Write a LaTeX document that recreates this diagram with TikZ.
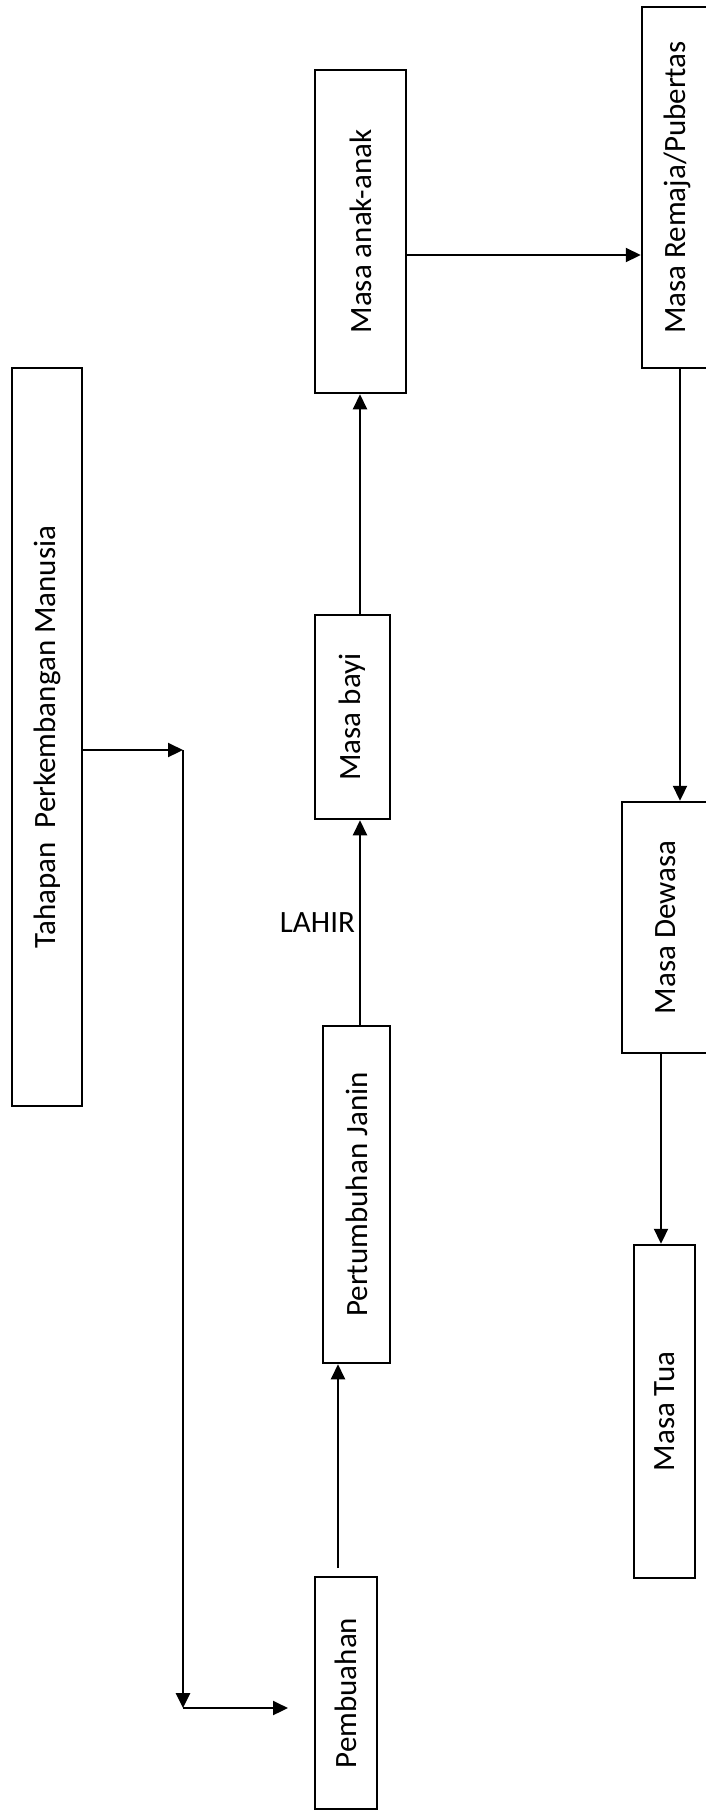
\documentclass[tikz,border=0pt]{standalone}
\usepackage{fontspec}
\setmainfont{Carlito}
\usetikzlibrary{arrows.meta}

\begin{document}
\begin{tikzpicture}[x=0.5pt,y=-0.5pt,line cap=butt,line join=miter,
    >={Triangle[length=7.5pt,width=7pt]},
    tahap/.style={draw,line width=1.25pt,inner sep=0pt,font=\fontsize{15.5}{18}\selectfont},
    panah/.style={->,line width=1.1pt}]
  \useasboundingbox (0,0) rectangle (706,1811);
  \clip (0,0) rectangle (706,1811);
  \node[tahap,minimum width=35pt,minimum height=369pt] (tahapan) at (47,737) {\rotatebox{90}{Tahapan\ \ Perkembangan Manusia}};
  \node[tahap,minimum width=31pt,minimum height=116pt] (buah) at (346,1693) {\rotatebox{90}{Pembuahan}};
  \node[tahap,minimum width=33.5pt,minimum height=168.5pt] (janin) at (356.5,1194.5) {\rotatebox{90}{Pertumbuhan Janin}};
  \node[tahap,minimum width=37.5pt,minimum height=102pt] (bayi) at (352.5,717) {\rotatebox{90}{Masa bayi}};
  \node[tahap,minimum width=45.5pt,minimum height=161.5pt] (anak) at (360.5,231.5) {\rotatebox{90}{Masa anak-anak}};
  \node[tahap,minimum width=35pt,minimum height=180.5pt] (remaja) at (677,187.5) {\rotatebox{90}{Masa Remaja/Pubertas}};
  \node[tahap,minimum width=44pt,minimum height=125.5pt] (dewasa) at (666,927.5) {\rotatebox{90}{Masa Dewasa}};
  \node[tahap,minimum width=30.5pt,minimum height=166.5pt] (tua) at (664.5,1411.5) {\rotatebox{90}{Masa Tua}};
  \coordinate (siku1) at (183,750);
  \coordinate (siku2) at (183,1708);
  \coordinate (ujung) at (288,1708);
  \coordinate (pangkal) at (338,1568);
  \draw[panah] (tahapan.east |- siku1) -- (siku1);
  \draw[panah,line width=1.35pt] (siku1) -- (siku2);
  \draw[panah] (siku2) -- (ujung);
  \draw[panah] (pangkal) -- (janin.south -| pangkal);
  \draw[panah] (janin.north -| 360,0) -- node[left=0pt,inner sep=2pt,font=\fontsize{15.5}{18}\selectfont] (lahir) {LAHIR} (bayi.south -| 360,0);
  \draw[panah] (bayi.north -| 360,0) -- (anak.south -| 360,0);
  \draw[panah] (anak.east |- 0,255) -- (remaja.west |- 0,255);
  \draw[panah] (remaja.south -| 680,0) -- (dewasa.north -| 680,0);
  \draw[panah] (dewasa.south -| 661,0) -- (tua.north -| 661,0);
\end{tikzpicture}
\end{document}
